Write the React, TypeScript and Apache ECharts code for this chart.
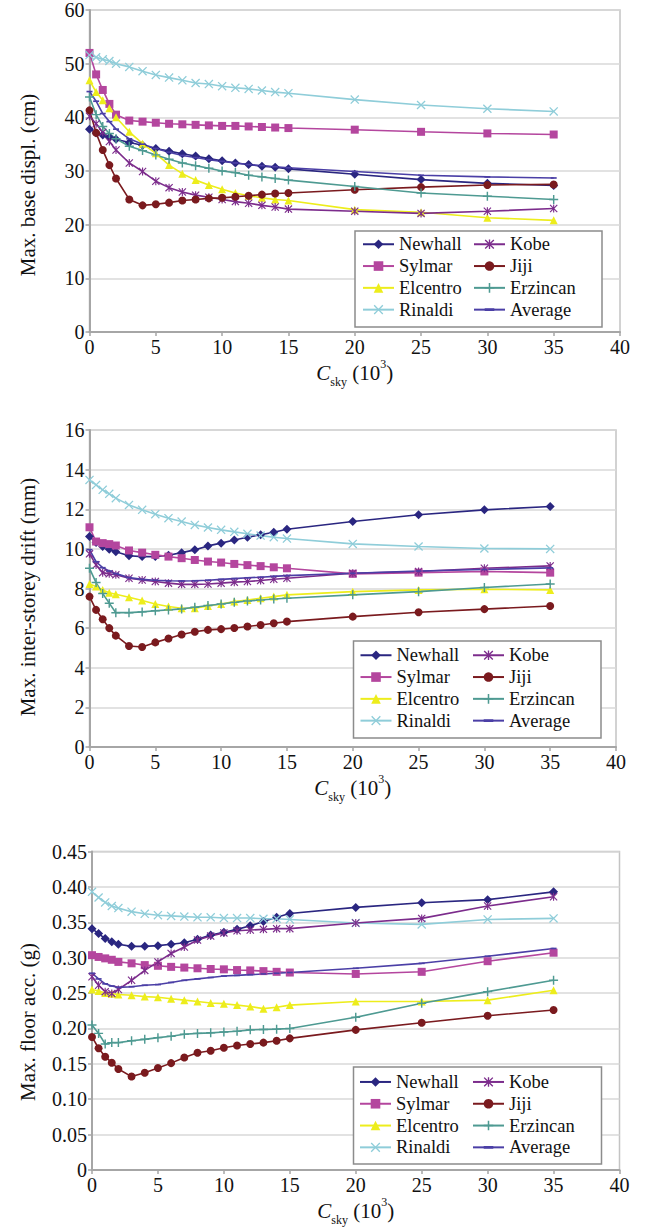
import React, { useEffect, useRef } from 'react';
import * as echarts from 'echarts';

// Damping coefficient C_sky (x 10^3) at which each response was computed
const cSky = [0, 0.5, 1, 1.5, 2, 3, 4, 5, 6, 7, 8, 9, 10, 11, 12, 13, 14, 15, 20, 25, 30, 35];

const records = ['Newhall', 'Sylmar', 'Elcentro', 'Rinaldi', 'Kobe', 'Jiji', 'Erzincan', 'Average'];
const legendLeftColumn = ['Newhall', 'Sylmar', 'Elcentro', 'Rinaldi'];
const legendRightColumn = ['Kobe', 'Jiji', 'Erzincan', 'Average'];

// Max. base displacement (cm)
const dispNewhall = [37.8, 37.1, 36.7, 36.3, 35.9, 35.3, 34.8, 34.2, 33.7, 33.2, 32.8, 32.3, 31.9, 31.5, 31.2, 30.9, 30.7, 30.4, 29.4, 28.4, 27.7, 27.3];
const dispSylmar = [52.0, 48.0, 45.1, 42.5, 40.5, 39.4, 39.2, 39.0, 38.8, 38.7, 38.6, 38.5, 38.4, 38.4, 38.3, 38.2, 38.1, 38.0, 37.7, 37.3, 37.0, 36.8];
const dispElcentro = [46.9, 44.7, 43.2, 41.7, 40.0, 37.3, 35.1, 33.3, 31.1, 29.5, 28.3, 27.4, 26.6, 25.9, 25.4, 25.0, 24.7, 24.5, 22.8, 22.3, 21.3, 20.8];
const dispRinaldi = [51.6, 51.2, 50.8, 50.5, 50.0, 49.4, 48.6, 47.9, 47.4, 46.9, 46.4, 46.2, 45.8, 45.5, 45.3, 45.0, 44.7, 44.5, 43.3, 42.3, 41.6, 41.1];
const dispKobe = [40.2, 38.8, 37.2, 35.5, 33.9, 31.5, 29.9, 28.1, 26.9, 26.1, 25.5, 25.1, 24.7, 24.3, 24.0, 23.6, 23.3, 22.9, 22.5, 22.1, 22.5, 23.0];
const dispJiji = [41.3, 37.1, 33.9, 31.1, 28.6, 24.7, 23.6, 23.8, 24.1, 24.5, 24.7, 24.9, 25.0, 25.2, 25.4, 25.6, 25.8, 25.9, 26.5, 27.0, 27.4, 27.5];
const dispErzincan = [43.8, 40.5, 38.3, 37.0, 36.0, 34.6, 33.8, 33.0, 32.2, 31.5, 31.0, 30.5, 30.0, 29.7, 29.2, 28.9, 28.6, 28.3, 27.1, 25.9, 25.3, 24.7];
const dispAverage = [44.8, 43.0, 40.7, 39.2, 37.8, 36.0, 35.0, 34.2, 33.5, 32.9, 32.5, 32.1, 31.8, 31.5, 31.2, 31.0, 30.8, 30.6, 29.9, 29.2, 28.9, 28.7];

// Max. inter-storey drift (mm)
const driftNewhall = [10.62, 10.32, 10.12, 9.98, 9.86, 9.65, 9.61, 9.61, 9.68, 9.81, 9.95, 10.15, 10.29, 10.45, 10.59, 10.71, 10.84, 10.99, 11.38, 11.72, 11.97, 12.14];
const driftSylmar = [11.09, 10.37, 10.29, 10.24, 10.17, 9.92, 9.81, 9.70, 9.61, 9.53, 9.44, 9.36, 9.31, 9.24, 9.18, 9.13, 9.07, 9.02, 8.74, 8.80, 8.86, 8.80];
const driftElcentro = [8.23, 8.10, 7.93, 7.79, 7.71, 7.56, 7.39, 7.22, 7.09, 7.00, 7.00, 7.12, 7.22, 7.34, 7.42, 7.51, 7.59, 7.68, 7.84, 7.93, 7.96, 7.93];
const driftRinaldi = [13.48, 13.23, 12.98, 12.78, 12.56, 12.22, 11.97, 11.75, 11.55, 11.38, 11.21, 11.08, 10.96, 10.86, 10.76, 10.67, 10.59, 10.52, 10.25, 10.12, 10.02, 10.0];
const driftKobe = [9.75, 9.19, 8.80, 8.74, 8.69, 8.52, 8.43, 8.35, 8.27, 8.21, 8.21, 8.23, 8.27, 8.32, 8.35, 8.40, 8.47, 8.52, 8.77, 8.86, 9.02, 9.14];
const driftJiji = [7.59, 6.92, 6.45, 6.00, 5.62, 5.10, 5.05, 5.28, 5.48, 5.68, 5.82, 5.91, 5.95, 6.01, 6.08, 6.16, 6.25, 6.33, 6.58, 6.80, 6.96, 7.12];
const driftErzincan = [9.02, 8.30, 7.75, 7.26, 6.78, 6.78, 6.82, 6.88, 6.92, 6.97, 7.05, 7.14, 7.22, 7.30, 7.37, 7.42, 7.47, 7.51, 7.68, 7.84, 8.05, 8.23];
const driftAverage = [9.96, 9.35, 9.05, 8.88, 8.75, 8.55, 8.46, 8.42, 8.39, 8.38, 8.39, 8.42, 8.46, 8.50, 8.54, 8.57, 8.61, 8.65, 8.77, 8.88, 8.96, 9.04];

// Max. floor acceleration (g)
const accNewhall = [0.341, 0.334, 0.327, 0.3225, 0.319, 0.316, 0.316, 0.317, 0.319, 0.321, 0.326, 0.332, 0.336, 0.340, 0.345, 0.351, 0.357, 0.3625, 0.371, 0.3775, 0.382, 0.393];
const accSylmar = [0.3035, 0.301, 0.299, 0.297, 0.294, 0.292, 0.2895, 0.2885, 0.287, 0.286, 0.285, 0.284, 0.2835, 0.2825, 0.282, 0.281, 0.280, 0.279, 0.277, 0.280, 0.295, 0.307];
const accElcentro = [0.255, 0.253, 0.250, 0.249, 0.248, 0.247, 0.245, 0.244, 0.242, 0.240, 0.238, 0.236, 0.235, 0.233, 0.231, 0.228, 0.230, 0.233, 0.238, 0.238, 0.240, 0.254];
const accRinaldi = [0.393, 0.385, 0.378, 0.373, 0.370, 0.365, 0.362, 0.360, 0.359, 0.358, 0.357, 0.357, 0.356, 0.356, 0.356, 0.355, 0.355, 0.354, 0.349, 0.347, 0.354, 0.3555];
const accKobe = [0.273, 0.261, 0.252, 0.2495, 0.255, 0.268, 0.282, 0.294, 0.306, 0.315, 0.325, 0.3305, 0.335, 0.338, 0.339, 0.340, 0.341, 0.341, 0.349, 0.3555, 0.373, 0.386];
const accJiji = [0.188, 0.172, 0.160, 0.1516, 0.1427, 0.132, 0.1375, 0.144, 0.151, 0.159, 0.1657, 0.1685, 0.1728, 0.176, 0.178, 0.180, 0.1826, 0.186, 0.198, 0.208, 0.218, 0.226];
const accErzincan = [0.205, 0.193, 0.178, 0.180, 0.180, 0.1826, 0.1846, 0.187, 0.189, 0.1917, 0.193, 0.1938, 0.195, 0.196, 0.198, 0.1985, 0.199, 0.200, 0.2157, 0.2355, 0.252, 0.268];
const accAverage = [0.278, 0.270, 0.263, 0.260, 0.258, 0.259, 0.261, 0.262, 0.265, 0.268, 0.270, 0.272, 0.274, 0.275, 0.276, 0.277, 0.278, 0.279, 0.285, 0.292, 0.302, 0.313];

const FONT = 'Liberation Serif, Times New Roman, serif';

// Marker shapes (all drawn in a 10x10 box)
const X_MARK = 'path://M1,0L5,4L9,0L10,1L6,5L10,9L9,10L5,6L1,10L0,9L4,5L0,1Z';
const STAR_MARK = 'path://M1,0L5,4L9,0L10,1L6,5L10,9L9,10L5,6L1,10L0,9L4,5L0,1Z M4.3,0L5.7,0L5.7,10L4.3,10Z';
const PLUS_MARK = 'path://M4.2,0L5.8,0L5.8,4.2L10,4.2L10,5.8L5.8,5.8L5.8,10L4.2,10L4.2,5.8L0,5.8L0,4.2L4.2,4.2Z';
const DASH_MARK = 'path://M0,0 M10,10 M0,3.6L10,3.6L10,6.4L0,6.4Z';

const look: Record<string, { color: string; symbol: string; size: number }> = {
  Newhall: { color: '#2A2680', symbol: 'diamond', size: 9 },
  Sylmar: { color: '#B4469E', symbol: 'rect', size: 8 },
  Elcentro: { color: '#EDED1C', symbol: 'triangle', size: 8 },
  Rinaldi: { color: '#8FCDD9', symbol: X_MARK, size: 9 },
  Kobe: { color: '#7C2C8C', symbol: STAR_MARK, size: 8 },
  Jiji: { color: '#7A1A1E', symbol: 'circle', size: 8 },
  Erzincan: { color: '#4E9A92', symbol: PLUS_MARK, size: 9 },
  Average: { color: '#4B3FA6', symbol: DASH_MARK, size: 6 },
};

const panels = [
  {
    grid: { left: 89.5, top: 10, width: 530.5, height: 322 },
    yMax: 60, yStep: 10, decimals: 0,
    yName: 'Max. base displ. (cm)', yNameAt: [28, 185], xNameGap: 26,
    legendBox: { x: 355, y: 231, width: 247, height: 96 },
    legendCols: [362, 473], legendTop: 234.75,
    values: { Newhall: dispNewhall, Sylmar: dispSylmar, Elcentro: dispElcentro, Rinaldi: dispRinaldi, Kobe: dispKobe, Jiji: dispJiji, Erzincan: dispErzincan, Average: dispAverage } as Record<string, number[]>,
  },
  {
    grid: { left: 89.5, top: 430, width: 526.5, height: 317 },
    yMax: 16, yStep: 2, decimals: 0,
    yName: 'Max. inter-storey drift (mm)', yNameAt: [28, 597], xNameGap: 23,
    legendBox: { x: 353.5, y: 641, width: 247.5, height: 97 },
    legendCols: [359.5, 472], legendTop: 645.75,
    values: { Newhall: driftNewhall, Sylmar: driftSylmar, Elcentro: driftElcentro, Rinaldi: driftRinaldi, Kobe: driftKobe, Jiji: driftJiji, Erzincan: driftErzincan, Average: driftAverage } as Record<string, number[]>,
  },
  {
    grid: { left: 92, top: 851.5, width: 527.5, height: 318.5 },
    yMax: 0.45, yStep: 0.05, decimals: 2,
    yName: 'Max. floor acc. (g)', yNameAt: [28, 1022], xNameGap: 20,
    legendBox: { x: 353.5, y: 1067, width: 248, height: 97 },
    legendCols: [359, 472], legendTop: 1072.45,
    values: { Newhall: accNewhall, Sylmar: accSylmar, Elcentro: accElcentro, Rinaldi: accRinaldi, Kobe: accKobe, Jiji: accJiji, Erzincan: accErzincan, Average: accAverage } as Record<string, number[]>,
  },
];

function buildOption() {
  const grid: any[] = [];
  const xAxis: any[] = [];
  const yAxis: any[] = [];
  const series: any[] = [];
  const legend: any[] = [];
  const graphic: any[] = [];

  panels.forEach((p, i) => {
    grid.push({
      ...p.grid,
      containLabel: false,
      show: true,
      borderColor: '#C4C4C4',
      borderWidth: 1.5,
      backgroundColor: '#ffffff',
    });
    xAxis.push({
      type: 'value',
      gridIndex: i,
      min: 0,
      max: 40,
      interval: 5,
      name: '{c|C}{s|sky}{n| (10}{p|3}{n|)}',
      nameLocation: 'middle',
      nameGap: p.xNameGap,
      nameTextStyle: {
        rich: {
          c: { fontFamily: FONT, fontSize: 21, fontStyle: 'italic', color: '#111', lineHeight: 30 },
          s: { fontFamily: FONT, fontSize: 12, color: '#111', lineHeight: 10, verticalAlign: 'bottom' },
          n: { fontFamily: FONT, fontSize: 21, color: '#111', lineHeight: 30 },
          p: { fontFamily: FONT, fontSize: 12, color: '#111', lineHeight: 24, verticalAlign: 'top' },
        },
      },
      axisLine: { show: true, lineStyle: { color: '#A6A6A6', width: 2 } },
      axisTick: { show: true, length: 4, lineStyle: { color: '#A6A6A6', width: 1.5 } },
      splitLine: { show: false },
      axisLabel: { fontFamily: FONT, fontSize: 20, color: '#111', margin: 5 },
    });
    yAxis.push({
      type: 'value',
      gridIndex: i,
      min: 0,
      max: p.yMax,
      interval: p.yStep,
      axisLine: { show: true, lineStyle: { color: '#A6A6A6', width: 2 } },
      axisTick: { show: true, length: 4, lineStyle: { color: '#A6A6A6', width: 1.5 } },
      splitLine: { show: true, lineStyle: { color: '#D9D9D9', width: 1.5 } },
      axisLabel: {
        fontFamily: FONT,
        fontSize: 20,
        color: '#111',
        margin: 5,
        formatter: (v: number) => (v === 0 ? '0' : v.toFixed(p.decimals)),
      },
    });
    records.forEach((name) => {
      const s = look[name];
      series.push({
        type: 'line',
        name,
        xAxisIndex: i,
        yAxisIndex: i,
        data: cSky.map((x, k) => [x, p.values[name][k]]),
        symbol: s.symbol,
        symbolSize: s.size,
        showSymbol: true,
        lineStyle: { color: s.color, width: 1.6 },
        itemStyle: { color: s.color },
        emphasis: { disabled: true },
        silent: true,
      });
    });

    // Vertical axis title
    graphic.push({
      type: 'text',
      x: p.yNameAt[0],
      y: p.yNameAt[1],
      rotation: Math.PI / 2,
      silent: true,
      style: {
        text: p.yName,
        fontFamily: FONT,
        fontSize: 21,
        fill: '#111',
        textAlign: 'center',
        textVerticalAlign: 'middle',
      },
    });

    // Legend frame
    graphic.push({
      type: 'rect',
      z: 3,
      silent: true,
      shape: { ...p.legendBox },
      style: { fill: '#ffffff', stroke: '#8C8C8C', lineWidth: 1.5 },
    });

    [legendLeftColumn, legendRightColumn].forEach((col, c) => {
      legend.push({
        show: true,
        orient: 'vertical',
        left: p.legendCols[c],
        top: p.legendTop,
        padding: 0,
        itemWidth: 31,
        itemHeight: 12,
        itemGap: 2.8,
        selectedMode: false,
        data: col,
        textStyle: { fontFamily: FONT, fontSize: 18.5, color: '#111' },
      });
    });
  });

  return { animation: false, backgroundColor: '#ffffff', grid, xAxis, yAxis, series, legend, graphic };
}

export default function App() {
  const ref = useRef<HTMLDivElement>(null);
  useEffect(() => {
    if (!ref.current) return;
    const chart = echarts.init(ref.current, undefined, { renderer: 'svg' });
    chart.setOption(buildOption() as any);
    return () => chart.dispose();
  }, []);
  return (
    <div
      ref={ref}
      style={{ position: 'absolute', left: 0, top: 0, width: 646, height: 1229, background: '#fff' }}
    />
  );
}
